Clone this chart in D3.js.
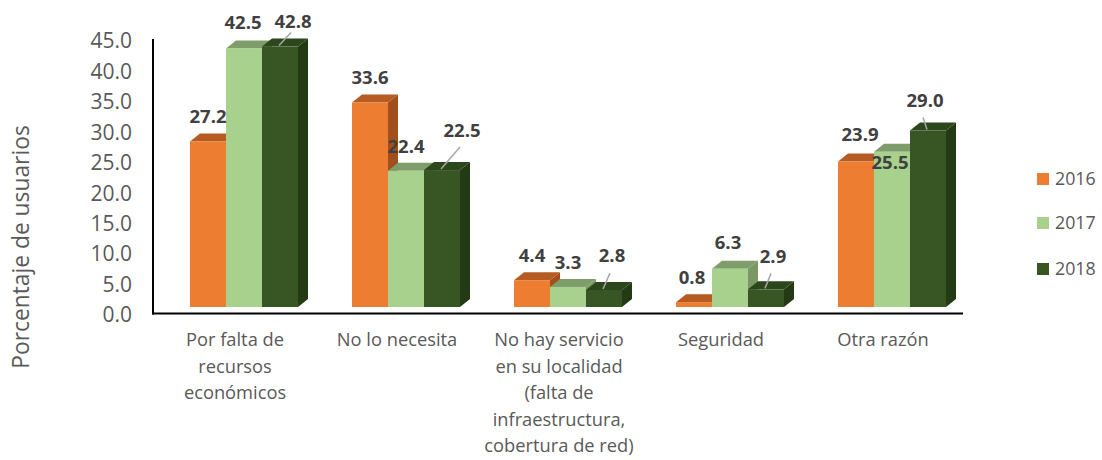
<!DOCTYPE html>
<html><head><meta charset="utf-8">
<script src="https://cdn.jsdelivr.net/npm/d3@7"></script>
<style>html,body{margin:0;padding:0;background:#fff;}svg{display:block;font-family:"Open Sans",sans-serif;}</style>
</head><body>
<svg id="c" width="1102" height="460"></svg>
<script>
const categories = [
  ["Por falta de","recursos","económicos"],
  ["No lo necesita"],
  ["No hay servicio","en su localidad","(falta de","infraestructura,","cobertura de red)"],
  ["Seguridad"],
  ["Otra razón"]
];
const seriesNames = ["2016","2017","2018"];
const v2016 = [27.2, 33.6, 4.4, 0.8, 23.9];
const v2017 = [42.5, 22.4, 3.3, 6.3, 25.5];
const v2018 = [42.8, 22.5, 2.8, 2.9, 29.0];
const yTicks = [0,5,10,15,20,25,30,35,40,45];

const seriesValues = [v2016, v2017, v2018];
const front = ["#ED7D31","#A9D18E","#375623"];
const topC  = ["#B65B22","#7F9D6A","#2B471B"];
const sideC = ["#A04F1D","#7A9866","#233A15"];

// label nudges [series][category] = [dx, dy, leader]
const nudge = [
  [[0,0,0],[0,0,0],[0,0,0],[-2,0,0],[4,-2,0]],
  [[-1,-1,0],[0,1,0],[0,1,0],[-2,-1,0],[-2,36,0]],
  [[13,0,1],[20,-15,1],[8,-9,1],[7,-8,1],[-3,-5,1]]
];

const svg = d3.select("#c");
const DX = 10, DY = 8;
const x0 = d3.scaleBand().domain(d3.range(categories.length)).range([163, 973]).paddingInner(1/3).paddingOuter(1/6);
const x1 = d3.scaleBand().domain(d3.range(3)).range([0, x0.bandwidth()]);
const y = d3.scaleLinear().domain([0,45]).range([307, 307 - 45*6.085]);

// axes lines
svg.append("line").attr("x1",153).attr("x2",153).attr("y1",39).attr("y2",314.5).attr("stroke","#000").attr("stroke-width",2);
svg.append("line").attr("x1",152).attr("x2",963).attr("y1",313.5).attr("y2",313.5).attr("stroke","#000").attr("stroke-width",2);

// y tick labels
const yAxis = d3.axisLeft(d3.scaleLinear().domain([0,45]).range([315, 315-45*6.085])).tickValues(yTicks).tickFormat(d3.format(".1f")).tickSize(0).tickPadding(0);
const ga = svg.append("g").attr("transform","translate(132,0)").call(yAxis);
ga.select(".domain").remove();
ga.selectAll("text").attr("font-family","Open Sans").attr("font-size","21px").attr("fill","#595959");

// y title
svg.append("text").attr("transform","translate(29,247) rotate(-90)").attr("text-anchor","middle")
  .attr("font-size","22.8px").attr("fill","#595959").text("Porcentaje de usuarios");

// bars
const gb = svg.append("g");
categories.forEach((c, ci) => {
  for (let s = 0; s < 3; s++) {
    const v = seriesValues[s][ci];
    const xl = x0(ci) + x1(s), w = x1.bandwidth();
    const yt = y(v), yb = y(0);
    gb.append("path").attr("d", `M${xl+w},${yb}L${xl+w+DX},${yb-DY}L${xl+w+DX},${yt-DY}L${xl+w},${yt}Z`).attr("fill", sideC[s]);
    gb.append("path").attr("d", `M${xl},${yt}L${xl+DX},${yt-DY}L${xl+w+DX},${yt-DY}L${xl+w},${yt}Z`).attr("fill", topC[s]);
    gb.append("rect").attr("x", xl).attr("y", yt).attr("width", w).attr("height", yb-yt).attr("fill", front[s]);
  }
});

// data labels
categories.forEach((c, ci) => {
  for (let s = 0; s < 3; s++) {
    const v = seriesValues[s][ci];
    const cx = x0(ci) + x1(s) + x1.bandwidth()/2;
    const [ndx, ndy, lead] = nudge[s][ci];
    const lx = cx + ndx, ly = y(v) - 25 + ndy;
    if (lead) {
      const ey = (ci === 0) ? ly + 11 : ly + 17;
      svg.append("line").attr("x1", cx - 1).attr("y1", y(v) - 1).attr("x2", lx - 2).attr("y2", ey)
        .attr("stroke","#A6A6A6").attr("stroke-width",1.5);
    }
    svg.append("text").attr("x", lx).attr("y", ly).attr("dy","0.35em").attr("text-anchor","middle")
      .attr("font-size","18.5px").attr("font-weight","bold").attr("fill","#404040").text(d3.format(".1f")(v));
  }
});

// category labels
categories.forEach((lines, ci) => {
  const cx = x0(ci) + x0.bandwidth()/2 - 9;
  const t = svg.append("text").attr("text-anchor","middle").attr("font-size","18.3px").attr("fill","#595959");
  lines.forEach((ln, i) => {
    t.append("tspan").attr("x", cx).attr("y", 346 + i*26.6).text(ln);
  });
});

// legend
seriesNames.forEach((n, i) => {
  const ly = [179, 223, 269][i];
  svg.append("rect").attr("x",1037).attr("y",ly-6).attr("width",12).attr("height",12).attr("fill",front[i]);
  svg.append("text").attr("x",1055).attr("y",ly).attr("dy","0.35em").attr("font-size","17.8px").attr("fill","#595959").text(n);
});
</script>
</body></html>
